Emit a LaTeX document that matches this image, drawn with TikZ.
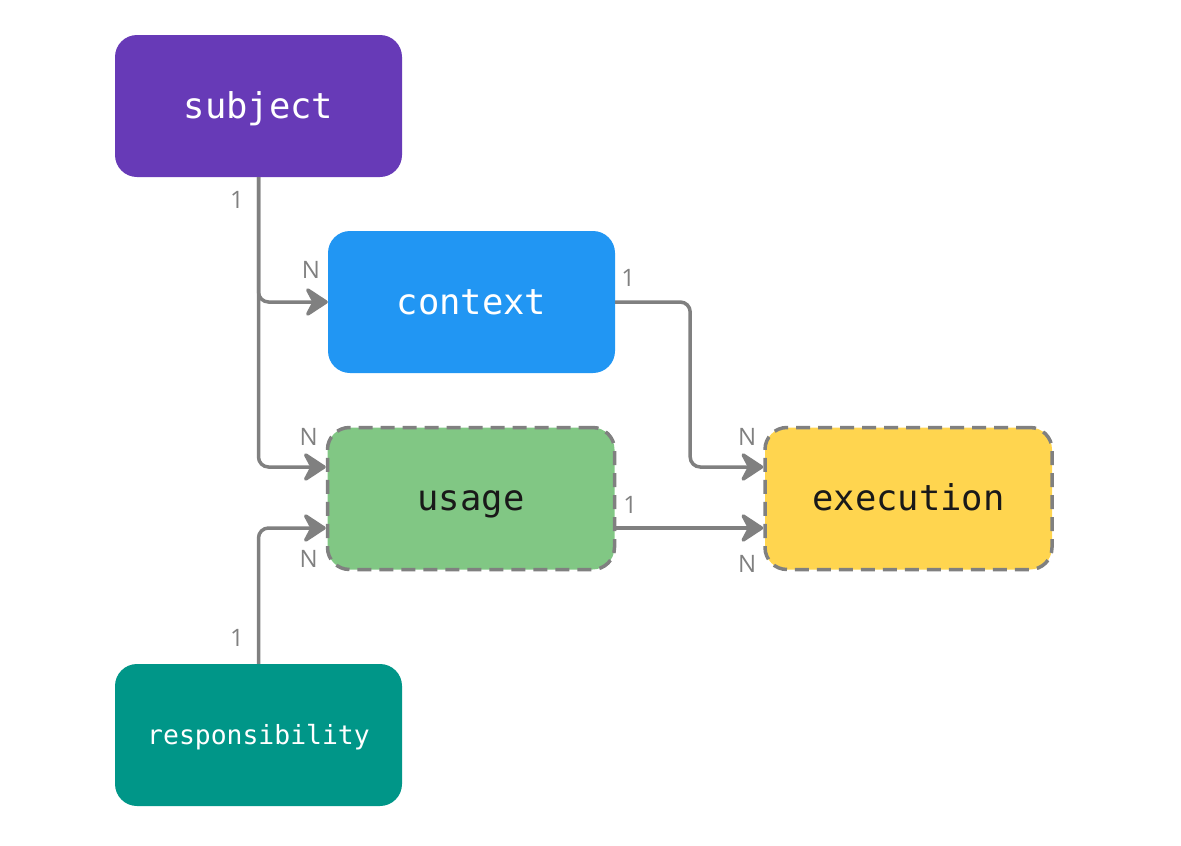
\documentclass[tikz,border=0pt]{standalone}
\usepackage{fontspec}
\setmonofont{DejaVu Sans Mono}
\setsansfont{Open Sans}
\usetikzlibrary{arrows.meta,positioning,calc}
\definecolor{subjcol}{HTML}{673AB7}
\definecolor{ctxcol}{HTML}{2196F3}
\definecolor{usecol}{HTML}{81C784}
\definecolor{execcol}{HTML}{FFD54F}
\definecolor{respcol}{HTML}{009688}
\definecolor{linkcol}{HTML}{808080}
\tikzstyle{link} = [line width=3.5pt,linkcol,rounded corners=10pt,-{Stealth[length=26pt,width=34pt,inset=9pt,round]}]

\begin{document}
\begin{tikzpicture}[x=1pt,y=-1pt,
    box/.style={rectangle,rounded corners=22pt,minimum width=287pt,minimum height=142pt,inner sep=0pt,text height=27pt,text depth=3pt,font=\ttfamily\fontsize{35.5}{36}\selectfont},
    weakbox/.style={box,draw=linkcol,line width=3.5pt,dash pattern=on 14pt off 8pt},
    card/.style={font=\sffamily\fontsize{24}{24}\selectfont,text=linkcol,inner sep=0pt},]
    \useasboundingbox (0,0) rectangle (1181,846);
    % \node [options] (name) at (x,y) {label};
    \node[box,fill=subjcol,text=white] (subject) at (258.5,106) {subject};
    \node[box,fill=ctxcol,text=white] (context) at (471.5,302) {context};
    \node[weakbox,fill=usecol,text=black!90] (usage) at (471,498.5) {usage};
    \node[weakbox,fill=execcol,text=black!90] (execution) at (908.5,498.5) {execution};
    \node[box,fill=respcol,text=white,text height=20pt,text depth=2pt,font=\ttfamily\fontsize{26.4}{27}\selectfont] (responsibility) at (258.5,735) {responsibility};

    % subject -> context, usage
    \draw[link] (subject.south) |- (context.west);
    \draw[link] (subject.south) |- ([yshift=31.5pt]usage.west);
    % responsibility -> usage
    \draw[link] (responsibility.north) |- ([yshift=-29.5pt]usage.west);
    % context, usage -> execution
    \draw[link] (context.east) -- ++(75,0) |- ([yshift=31.5pt]execution.west);
    \draw[link] ([yshift=-29.5pt]usage.east) -- ([yshift=-29.5pt]execution.west);

    % cardinalities
    \node[card] (c1) at ([xshift=-21.5pt,yshift=-23pt]subject.south) {1};
    \node[card] (c2) at ([xshift=-17pt,yshift=32pt]context.west) {N};
    \node[card] (c3) at ([xshift=-17pt,yshift=61.5pt]usage.west) {N};
    \node[card] (c4) at ([xshift=-17pt,yshift=-60.5pt]usage.west) {N};
    \node[card] (c5) at ([xshift=-21.5pt,yshift=26pt]responsibility.north) {1};
    \node[card] (c6) at ([xshift=13pt,yshift=24pt]context.east) {1};
    \node[card] (c7) at ([xshift=14pt,yshift=-6.5pt]usage.east) {1};
    \node[card] (c8) at ([xshift=-16pt,yshift=61.5pt]execution.west) {N};
    \node[card] (c9) at ([xshift=-16pt,yshift=-65.5pt]execution.west) {N};
\end{tikzpicture}
\end{document}
